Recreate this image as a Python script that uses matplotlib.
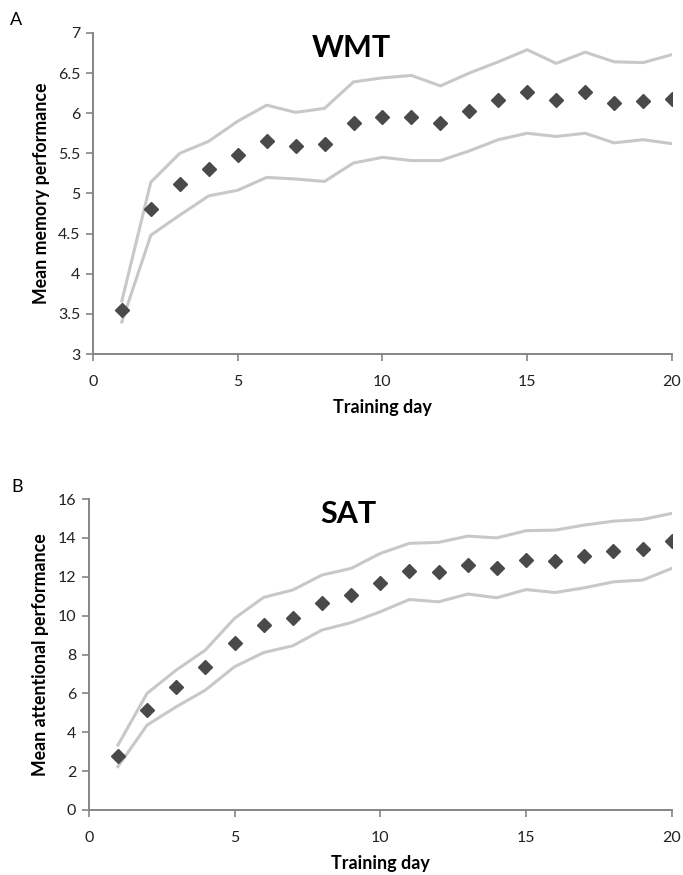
import matplotlib
matplotlib.use('Agg')
import matplotlib.pyplot as plt

plt.rcParams['font.family'] = ['Lato', 'DejaVu Sans']

days = list(range(1, 21))

# Panel A - working memory training (WMT)
wmt_mean = [3.55, 4.81, 5.12, 5.31, 5.48, 5.65, 5.59, 5.61, 5.88, 5.95,
            5.95, 5.88, 6.03, 6.16, 6.27, 6.17, 6.26, 6.13, 6.15, 6.18]
wmt_upper = [3.66, 5.14, 5.50, 5.65, 5.90, 6.10, 6.01, 6.06, 6.39, 6.44,
             6.47, 6.34, 6.50, 6.64, 6.79, 6.62, 6.76, 6.64, 6.63, 6.73]
wmt_lower = [3.40, 4.48, 4.73, 4.97, 5.04, 5.20, 5.18, 5.15, 5.38, 5.45,
             5.41, 5.41, 5.53, 5.67, 5.75, 5.71, 5.75, 5.63, 5.67, 5.62]

# Panel B - sustained attention training (SAT)
sat_mean = [2.78, 5.14, 6.31, 7.34, 8.60, 9.52, 9.86, 10.66, 11.08, 11.70,
            12.29, 12.26, 12.60, 12.46, 12.86, 12.83, 13.08, 13.32, 13.43, 13.85]
sat_upper = [3.34, 6.00, 7.20, 8.23, 9.86, 10.94, 11.32, 12.09, 12.43, 13.20,
             13.72, 13.77, 14.09, 14.00, 14.37, 14.40, 14.66, 14.86, 14.95, 15.26]
sat_lower = [2.23, 4.37, 5.31, 6.17, 7.37, 8.10, 8.45, 9.26, 9.64, 10.20,
             10.83, 10.71, 11.11, 10.92, 11.34, 11.19, 11.43, 11.74, 11.83, 12.43]

x_ticks = [0, 5, 10, 15, 20]
wmt_yticks = [3, 3.5, 4, 4.5, 5, 5.5, 6, 6.5, 7]
sat_yticks = [0, 2, 4, 6, 8, 10, 12, 14, 16]

line_col = '#c8c8c8'
marker_col = '#4a4a4a'
spine_col = '#858585'

fig = plt.figure(figsize=(6.83, 8.75), dpi=100)
ax_a = fig.add_axes([0.136, 0.5954, 0.848, 0.367])
ax_b = fig.add_axes([0.130, 0.0743, 0.8536, 0.3554])


def style_panel(ax, mean, upper, lower, yticks, ylabel, title):
    ax.plot(days, upper, color=line_col, lw=2.2, zorder=2)
    ax.plot(days, lower, color=line_col, lw=2.2, zorder=2)
    ax.plot(days, mean, linestyle='none', marker='D', markersize=7.5,
            color=marker_col, zorder=3)
    ax.set_xlim(0, 20)
    ax.set_ylim(yticks[0], yticks[-1])
    ax.set_xticks(x_ticks)
    ax.set_yticks(yticks)
    ax.set_yticklabels([f'{t:g}' for t in yticks])
    for s in ['top', 'right']:
        ax.spines[s].set_visible(False)
    for s in ['left', 'bottom']:
        ax.spines[s].set_color(spine_col)
        ax.spines[s].set_linewidth(1.4)
    ax.tick_params(axis='both', direction='out', length=5, width=1.2,
                   color=spine_col, labelsize=11.5, labelcolor='#222222')
    ax.tick_params(axis='x', pad=10)
    ax.tick_params(axis='y', pad=4)
    ax.set_xlabel('Training day', fontsize=13, fontweight='bold', labelpad=7)
    ax.set_ylabel(ylabel, fontsize=12.8, fontweight='bold', labelpad=6)
    ax.text(0.446, 0.952, title, transform=ax.transAxes, ha='center',
            va='center', fontsize=22, fontweight='bold')


style_panel(ax_a, wmt_mean, wmt_upper, wmt_lower, wmt_yticks,
            'Mean memory performance', 'WMT')
style_panel(ax_b, sat_mean, sat_upper, sat_lower, sat_yticks,
            'Mean attentional performance', 'SAT')

fig.text(0.015, 0.977, 'A', fontsize=13, va='center', ha='left')
fig.text(0.016, 0.444, 'B', fontsize=13, va='center', ha='left')

fig.savefig('out.png', dpi=100)
